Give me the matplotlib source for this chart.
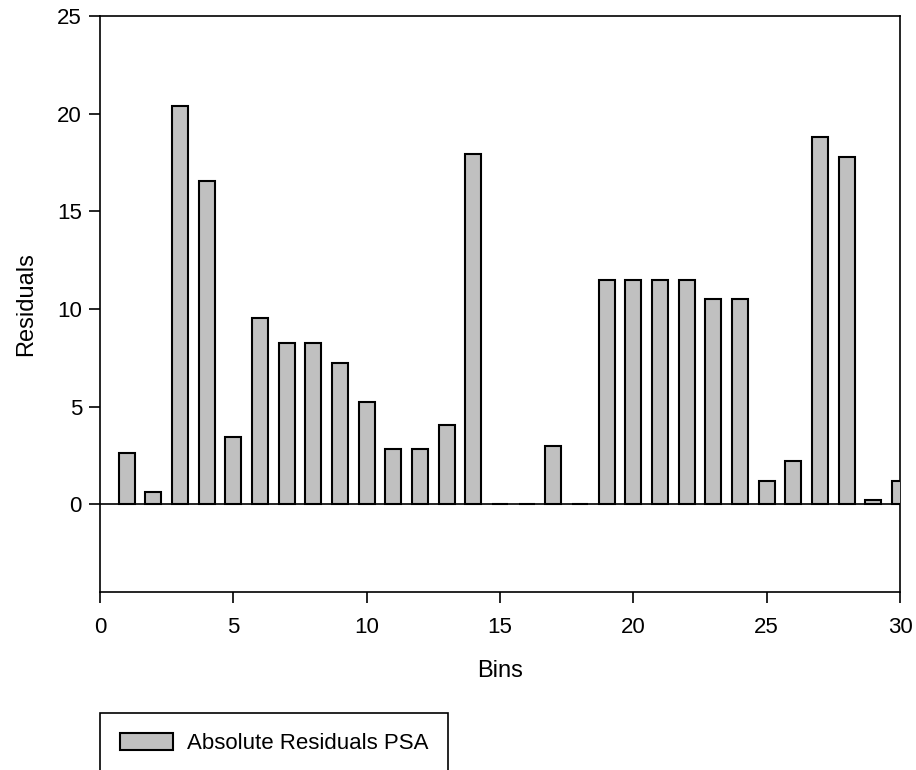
import matplotlib
matplotlib.use("Agg")
import matplotlib.pyplot as plt
from matplotlib.ticker import MultipleLocator

# Absolute residuals per bin
bins = list(range(1, 31))
residuals = [2.6, 0.6, 20.4, 16.55, 3.45, 9.55, 8.25, 8.25, 7.25, 5.25,
             2.8, 2.8, 4.05, 17.95, 0.0, 0.0, 3.0, 0.0, 11.5, 11.5,
             11.5, 11.5, 10.5, 10.5, 1.2, 2.2, 18.8, 17.8, 0.2, 1.2]
series_label = "Absolute Residuals PSA"

plt.rcParams["font.family"] = ["Liberation Sans", "DejaVu Sans"]

W, H = 916, 770
fig = plt.figure(figsize=(W / 100, H / 100), dpi=100)
ax = fig.add_axes([100 / W, 1 - 592 / H, 800 / W, 576 / H])

ax.bar(bins, residuals, width=0.6, color="#c0c0c0", edgecolor="black",
       linewidth=1.5, label=series_label, zorder=3)
ax.axhline(0, color="black", linewidth=1.2, zorder=2)

ax.set_xlim(0, 30)
ax.set_ylim(-4.5, 25)
ax.xaxis.set_major_locator(MultipleLocator(5))
ax.set_yticks([0, 5, 10, 15, 20, 25])

for side in ax.spines.values():
    side.set_linewidth(1.2)
ax.tick_params(direction="out", length=8, width=1.2, labelsize=16, pad=5)
ax.tick_params(axis="x", pad=10)

ax.set_xlabel("Bins", fontsize=17, labelpad=16)
ax.set_ylabel("Residuals", fontsize=17, labelpad=14)

# legend sits under the axes, its lower edge runs off the figure
fig.legend(loc="upper left", bbox_to_anchor=(100 / W, 1 - 713 / H),
           bbox_transform=fig.transFigure, fontsize=16, frameon=True,
           fancybox=False, edgecolor="black", framealpha=1,
           handlelength=2.4, handleheight=0.8, handletextpad=0.6,
           borderpad=0.9, borderaxespad=0)
fig.legends[0].get_frame().set_linewidth(1.2)

fig.savefig("out.png", dpi=100)
